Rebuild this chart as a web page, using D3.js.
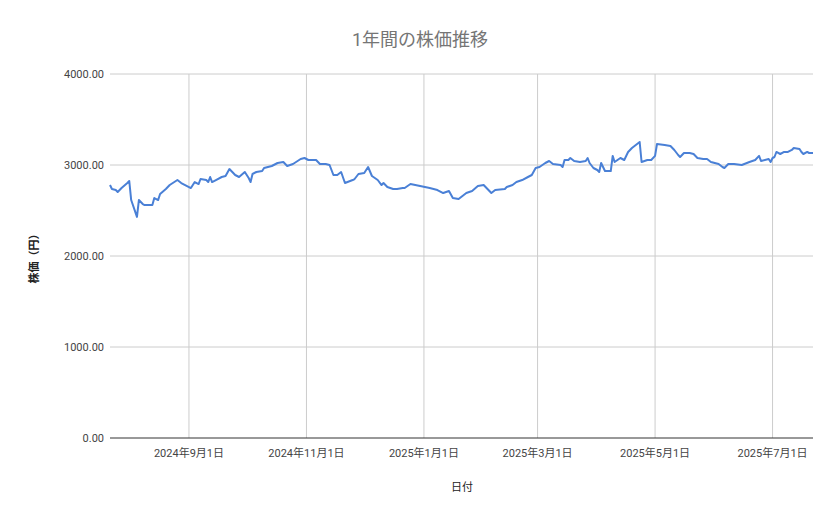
<!DOCTYPE html>
<html><head><meta charset="utf-8">
<script src="https://cdn.jsdelivr.net/npm/d3@7"></script>
<style>body{margin:0;background:#fff;font-family:Roboto,"Noto Sans CJK JP",sans-serif;}</style>
</head><body><div id="chart"></div>
<script>
const dates = ['2024-07-22','2024-07-23','2024-07-25','2024-07-26','2024-07-28','2024-07-31','2024-08-01','2024-08-02','2024-08-05','2024-08-06','2024-08-08','2024-08-09','2024-08-13','2024-08-14','2024-08-16','2024-08-17','2024-08-20','2024-08-22','2024-08-26','2024-08-28','2024-08-30','2024-09-02','2024-09-04','2024-09-06','2024-09-07','2024-09-10','2024-09-11','2024-09-12','2024-09-13','2024-09-15','2024-09-18','2024-09-20','2024-09-22','2024-09-25','2024-09-27','2024-09-30','2024-10-02','2024-10-03','2024-10-04','2024-10-06','2024-10-09','2024-10-10','2024-10-14','2024-10-17','2024-10-20','2024-10-22','2024-10-25','2024-10-29','2024-10-31','2024-11-02','2024-11-06','2024-11-08','2024-11-11','2024-11-13','2024-11-15','2024-11-17','2024-11-19','2024-11-21','2024-11-25','2024-11-26','2024-11-28','2024-12-01','2024-12-03','2024-12-05','2024-12-08','2024-12-10','2024-12-11','2024-12-13','2024-12-16','2024-12-18','2024-12-21','2024-12-22','2024-12-25','2024-12-30','2025-01-04','2025-01-08','2025-01-11','2025-01-14','2025-01-16','2025-01-19','2025-01-21','2025-01-23','2025-01-26','2025-01-29','2025-02-01','2025-02-03','2025-02-05','2025-02-07','2025-02-12','2025-02-13','2025-02-16','2025-02-18','2025-02-21','2025-02-24','2025-02-26','2025-02-28','2025-03-02','2025-03-05','2025-03-07','2025-03-09','2025-03-13','2025-03-14','2025-03-15','2025-03-17','2025-03-18','2025-03-20','2025-03-23','2025-03-26','2025-03-27','2025-03-28','2025-03-30','2025-04-01','2025-04-02','2025-04-03','2025-04-05','2025-04-08','2025-04-09','2025-04-10','2025-04-13','2025-04-15','2025-04-17','2025-04-19','2025-04-21','2025-04-23','2025-04-24','2025-04-27','2025-04-29','2025-05-01','2025-05-02','2025-05-06','2025-05-09','2025-05-11','2025-05-13','2025-05-14','2025-05-16','2025-05-19','2025-05-21','2025-05-23','2025-05-26','2025-05-28','2025-05-30','2025-06-03','2025-06-05','2025-06-06','2025-06-08','2025-06-11','2025-06-15','2025-06-19','2025-06-22','2025-06-24','2025-06-25','2025-06-29','2025-06-30','2025-07-01','2025-07-02','2025-07-03','2025-07-05','2025-07-07','2025-07-09','2025-07-11','2025-07-12','2025-07-15','2025-07-16','2025-07-17','2025-07-19','2025-07-20','2025-07-22'];
const prices = [2780,2736,2725,2703,2747,2802,2824,2615,2430,2615,2571,2560,2560,2637,2615,2681,2736,2780,2835,2802,2780,2747,2813,2791,2846,2835,2813,2868,2813,2835,2868,2879,2956,2890,2868,2923,2857,2813,2901,2923,2934,2967,2989,3022,3033,2989,3011,3066,3077,3055,3055,3011,3011,3000,2890,2890,2923,2802,2835,2846,2901,2912,2978,2879,2835,2780,2802,2758,2736,2736,2747,2747,2791,2769,2747,2725,2692,2714,2637,2626,2659,2692,2714,2769,2780,2736,2692,2725,2736,2758,2780,2813,2835,2868,2890,2967,2978,3022,3044,3011,3000,2978,3055,3055,3077,3044,3033,3044,3077,3022,2967,2945,2923,3022,2934,2934,3100,3033,3077,3055,3143,3187,3220,3253,3033,3055,3055,3100,3231,3220,3209,3165,3110,3088,3132,3132,3121,3077,3066,3066,3033,3011,2978,2967,3011,3011,3000,3033,3055,3100,3044,3066,3033,3077,3088,3143,3121,3143,3143,3165,3187,3176,3143,3121,3143,3132,3132];
const xTicks = ['2024-09-01','2024-11-01','2025-01-01','2025-03-01','2025-05-01','2025-07-01'];
const yTicks = [0, 1000, 2000, 3000, 4000];

const width = 839, height = 519;
const margin = {top: 74, right: 26, bottom: 81, left: 110};
const parse = d3.timeParse('%Y-%m-%d');
const data = dates.map((d, i) => ({date: parse(d), value: prices[i]}));

const svg = d3.select('#chart').append('svg').attr('width', width).attr('height', height);

const x = d3.scaleTime()
	.domain([parse('2024-07-22'), parse('2025-07-22')])
	.range([margin.left, width - margin.right]);
const y = d3.scaleLinear().domain([0, 4000]).range([height - margin.bottom, margin.top]);

// grid
svg.append('g').selectAll('line').data(yTicks.slice(1)).join('line')
	.attr('x1', margin.left).attr('x2', width - margin.right)
	.attr('y1', d => y(d)).attr('y2', d => y(d))
	.attr('stroke', '#ccc');
svg.append('g').selectAll('line').data(xTicks).join('line')
	.attr('x1', d => x(parse(d))).attr('x2', d => x(parse(d)))
	.attr('y1', margin.top).attr('y2', height - margin.bottom)
	.attr('stroke', '#ccc');
svg.append('line')
	.attr('x1', margin.left).attr('x2', width - margin.right)
	.attr('y1', y(0)).attr('y2', y(0)).attr('stroke', '#333');

// labels
svg.append('g').selectAll('text').data(yTicks).join('text')
	.attr('x', margin.left - 6).attr('y', d => y(d) + 4)
	.attr('text-anchor', 'end').attr('font-size', 11).attr('fill', '#444')
	.text(d3.format('.2f'));
svg.append('g').selectAll('text').data(xTicks).join('text')
	.attr('x', d => x(parse(d))).attr('y', 457)
	.attr('text-anchor', 'middle').attr('font-size', 11).attr('fill', '#444')
	.text(d => d3.timeFormat('%Y年%-m月%-d日')(parse(d)));

svg.append('path').datum(data)
	.attr('d', d3.line().x(d => x(d.date)).y(d => y(d.value)))
	.attr('fill', 'none').attr('stroke', '#4a80d6').attr('stroke-width', 2)
	.attr('stroke-linejoin', 'round');

svg.append('text').attr('x', 420).attr('y', 46).attr('text-anchor', 'middle')
	.attr('font-size', 18).attr('fill', '#757575').text('1年間の株価推移');
svg.append('text').attr('x', 462).attr('y', 491).attr('text-anchor', 'middle')
	.attr('font-size', 11).attr('fill', '#222').text('日付');
svg.append('text').attr('transform', 'translate(38,256) rotate(-90)').attr('text-anchor', 'middle')
	.attr('font-size', 11).attr('fill', '#222').attr('font-weight', 'bold').text('株価（円）');
</script></body></html>
